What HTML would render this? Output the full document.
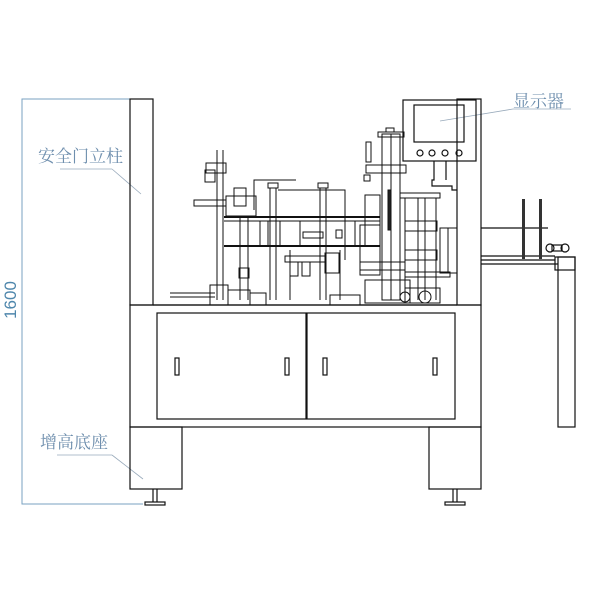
<!DOCTYPE html>
<html><head><meta charset="utf-8"><style>
html,body{margin:0;padding:0;background:#fff;width:600px;height:600px;overflow:hidden}
svg{display:block}
.l{fill:none;stroke:#111;stroke-width:1.2}
.t{stroke:#111;stroke-width:1;fill:none}
.lab{font-family:"Liberation Serif","Noto Serif CJK SC",serif;font-size:17px;fill:#6f8fae}
</style></head><body>
<svg width="600" height="600" viewBox="0 0 600 600">
<polyline points="130,99 22,99 22,504 143,504" fill="none" stroke="#7aa2c0" stroke-width="1"/>
<text x="16" y="300" transform="rotate(-90 16 300)" text-anchor="middle" font-family="Liberation Sans,sans-serif" font-size="17" fill="#4f87ac">1600</text>
<text class="lab" x="38" y="162">安全门立柱</text>
<line x1="60" y1="169" x2="112" y2="169" stroke="#9ab" stroke-width="0.8"/>
<line x1="112" y1="169" x2="141" y2="194" stroke="#9ab" stroke-width="0.8"/>
<text class="lab" x="40" y="448">增高底座</text>
<line x1="57" y1="455" x2="112" y2="455" stroke="#9ab" stroke-width="0.8"/>
<line x1="112" y1="455" x2="143" y2="479" stroke="#9ab" stroke-width="0.8"/>
<text class="lab" x="513" y="107">显示器</text>
<line x1="513" y1="109" x2="571" y2="109" stroke="#9ab" stroke-width="0.8"/>
<line x1="513" y1="109" x2="440" y2="121" stroke="#9ab" stroke-width="0.8"/>
<rect class="l" x="130" y="99" width="23" height="206"/>
<rect class="l" x="130" y="305" width="351" height="122"/>
<rect class="l" x="157" y="313" width="149" height="106"/>
<rect class="l" x="307" y="313" width="148" height="106"/>
<rect class="l" x="175" y="358" width="4" height="17"/>
<rect class="l" x="285" y="358" width="4" height="17"/>
<rect class="l" x="323" y="358" width="4" height="17"/>
<rect class="l" x="433" y="358" width="4" height="17"/>
<rect class="l" x="130" y="427" width="52" height="62"/>
<rect class="l" x="429" y="427" width="52" height="62"/>
<line class="l" x1="153" y1="489" x2="153" y2="502"/><line class="l" x1="157" y1="489" x2="157" y2="502"/>
<rect class="l" x="145" y="502" width="20" height="3"/>
<line class="l" x1="453" y1="489" x2="453" y2="502"/><line class="l" x1="457" y1="489" x2="457" y2="502"/>
<rect class="l" x="445" y="502" width="20" height="3"/>
<rect class="l" x="457" y="99" width="24" height="206"/>
<rect class="l" x="403" y="100" width="73" height="61" fill="#fff"/>
<rect class="l" x="414" y="105" width="50" height="37"/>
<circle class="l" cx="420" cy="153" r="3"/><circle class="l" cx="432" cy="153" r="3"/><circle class="l" cx="445" cy="153" r="3"/><circle class="l" cx="459" cy="153" r="3"/>
<polyline class="l" points="434,161 434,180 432,180 432,186 452,186 452,190 457,190"/>
<line class="l" x1="446" y1="161" x2="446" y2="180"/>
<line class="l" x1="481" y1="228" x2="548" y2="228"/>
<line class="l" x1="481" y1="256" x2="555" y2="256"/>
<line class="l" x1="481" y1="260" x2="555" y2="260"/>
<line class="l" x1="481" y1="264" x2="558" y2="264"/>
<rect x="522" y="199" width="3" height="60" fill="#333"/>
<rect x="539" y="199" width="3" height="60" fill="#333"/>
<rect class="l" x="558" y="257" width="17" height="170"/>
<rect class="l" x="555" y="257" width="20" height="13"/>
<circle class="l" cx="550" cy="248" r="4"/><circle class="l" cx="565" cy="248" r="4"/>
<rect class="l" x="552" y="245" width="10" height="6"/>
<g class="t">
<line x1="217" y1="150" x2="217" y2="300"/><line x1="223" y1="150" x2="223" y2="300"/>
<rect x="206" y="163" width="20" height="10"/><rect x="205" y="170" width="10" height="12"/>
<rect x="194" y="200" width="32" height="6"/>
<rect x="234" y="188" width="12" height="18"/>
<rect x="226" y="196" width="30" height="20"/>
<line x1="224" y1="217" x2="380" y2="217" stroke-width="2"/>
<line x1="224" y1="246" x2="380" y2="246" stroke-width="2"/>
<line x1="224" y1="221" x2="380" y2="221"/>
<line x1="260" y1="221" x2="260" y2="246"/><line x1="268" y1="221" x2="268" y2="246"/><line x1="280" y1="221" x2="280" y2="246"/><line x1="300" y1="221" x2="300" y2="246"/><line x1="355" y1="221" x2="355" y2="246"/><line x1="365" y1="221" x2="365" y2="246"/>
<polyline points="254,210 254,180 296,180"/>
<rect x="268" y="183" width="10" height="5"/><line x1="270" y1="188" x2="270" y2="300"/><line x1="276" y1="188" x2="276" y2="300"/>
<rect x="318" y="183" width="10" height="5"/><line x1="320" y1="188" x2="320" y2="300"/><line x1="326" y1="188" x2="326" y2="300"/>
<polyline points="278,190 345,190 345,260"/>
<line x1="240" y1="217" x2="240" y2="300"/><line x1="248" y1="217" x2="248" y2="300"/>
<rect x="239" y="268" width="10" height="10"/>
<rect x="285" y="256" width="40" height="6"/><rect x="290" y="262" width="8" height="14"/><rect x="302" y="262" width="8" height="14"/>
<rect x="325" y="253" width="14" height="20"/>
<line x1="290" y1="250" x2="290" y2="300"/><line x1="340" y1="250" x2="340" y2="300"/>
<rect x="303" y="232" width="20" height="6"/><rect x="336" y="230" width="6" height="8"/>
<line x1="170" y1="293" x2="215" y2="293"/><line x1="170" y1="297" x2="215" y2="297"/>
<rect x="210" y="285" width="18" height="20"/><rect x="228" y="290" width="22" height="15"/>
<rect x="250" y="293" width="16" height="12"/>
<rect x="330" y="295" width="30" height="10"/>
<rect x="382" y="134" width="18" height="166"/><line x1="391" y1="134" x2="391" y2="300"/>
<rect x="388" y="190" width="3" height="40" fill="#222"/>
<rect x="378" y="132" width="26" height="5"/><rect x="386" y="128" width="8" height="4"/>
<rect x="366" y="165" width="40" height="8"/>
<rect x="366" y="142" width="5" height="20"/><rect x="364" y="175" width="6" height="6"/>
<rect x="365" y="195" width="15" height="30"/>
<rect x="360" y="225" width="20" height="50"/>
<rect x="360" y="262" width="45" height="8"/>
<rect x="365" y="280" width="45" height="23"/>
<rect x="400" y="193" width="40" height="5"/>
<line x1="405" y1="198" x2="405" y2="300"/><line x1="418" y1="198" x2="418" y2="300"/><line x1="425" y1="198" x2="425" y2="300"/><line x1="436" y1="198" x2="436" y2="300"/>
<rect x="405" y="221" width="32" height="10"/>
<rect x="405" y="250" width="32" height="10"/>
<rect x="405" y="272" width="45" height="5"/>
<rect x="440" y="228" width="17" height="45"/><line x1="448" y1="228" x2="448" y2="273"/>
<circle cx="425" cy="297" r="6"/><circle cx="405" cy="297" r="5"/>
<rect x="405" y="288" width="35" height="15"/>
</g>
<line class="l" x1="153" y1="305" x2="457" y2="305"/>
</svg>
</body></html>
